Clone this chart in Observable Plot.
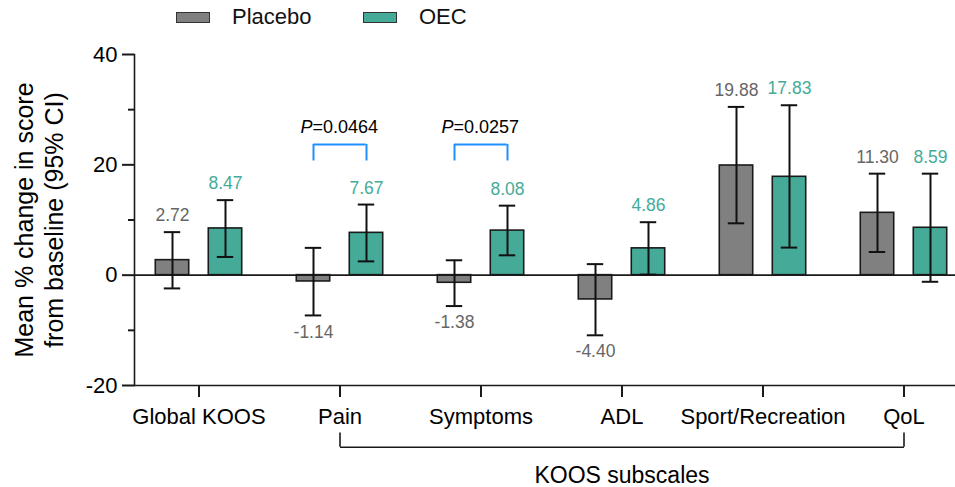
<!DOCTYPE html>
<html><head><meta charset="utf-8">
<script src="https://cdn.jsdelivr.net/npm/d3@7"></script>
<script src="https://cdn.jsdelivr.net/npm/@observablehq/plot@0.6"></script>
<style>
body{margin:0;background:#fff;font-family:"Liberation Sans",Arial,sans-serif;}
#legend{position:relative;height:36px;width:955px;}
.sw{position:absolute;top:12px;width:32px;height:9px;border:1.6px solid #333;}
.lt{position:absolute;top:4px;font-size:22px;line-height:26px;color:#111;white-space:nowrap;}
</style></head><body>
<div id="legend"></div>
<div id="chart"></div>
<script>
// ---- data ----
const categories = ["Global KOOS", "Pain", "Symptoms", "ADL", "Sport/Recreation", "QoL"];
const groups = ["Placebo", "OEC"];
const placeboMean  = [2.72, -1.14, -1.38, -4.40, 19.88, 11.30];
const placeboLower = [-2.4, -7.3, -5.6, -10.9, 9.4, 4.2];
const placeboUpper = [7.8, 4.95, 2.7, 2.0, 30.5, 18.4];
const oecMean  = [8.47, 7.67, 8.08, 4.86, 17.83, 8.59];
const oecLower = [3.3, 2.5, 3.6, 0.1, 5.0, -1.2];
const oecUpper = [13.6, 12.8, 12.6, 9.6, 30.8, 18.4];
const yTicks = [-20, 0, 20, 40];
const yMinorTicks = [-10, 10, 30];
const pComparisons = ["Pain", "Symptoms"];
const pValues = ["0.0464", "0.0257"];
const subscaleSpan = ["Pain", "QoL"];
const subscaleLabel = "KOOS subscales";
const yLabel = "Mean % change in score\nfrom baseline (95% CI)";

// ---- styles ----
const colors = {Placebo: "#808080", OEC: "#45ab98"};
const textColors = {Placebo: "#666666", OEC: "#45ab98"};
const FONT = '"Liberation Sans", Arial, sans-serif';
const ink = "#1a1a1a";
const bracketBlue = "#1e8fff";

// legend (HTML, above the SVG)
const legend = document.getElementById("legend");
const legendPos = {Placebo: [176, 232], OEC: [363, 419]};
for (const g of groups) {
  const sw = document.createElement("div");
  sw.className = "sw"; sw.style.left = legendPos[g][0] + "px"; sw.style.background = colors[g];
  const lt = document.createElement("div");
  lt.className = "lt"; lt.style.left = legendPos[g][1] + "px"; lt.textContent = g;
  legend.appendChild(sw); legend.appendChild(lt);
}

// table
const rows = [];
categories.forEach((c, i) => {
  rows.push({cat: c, group: "Placebo", mean: placeboMean[i], lo: placeboLower[i], hi: placeboUpper[i]});
  rows.push({cat: c, group: "OEC", mean: oecMean[i], lo: oecLower[i], hi: oecUpper[i]});
});

const half = 141.57 / 2;          // half band width
const off = 26.5;                 // bar centre offset from category centre
const barHalf = 17;
const whiskerHalf = 8.5;
const layout = {
  Placebo: {dx: -off, insetLeft: half - off - barHalf, insetRight: half + off - barHalf},
  OEC:     {dx:  off, insetLeft: half + off - barHalf, insetRight: half - off - barHalf}
};

const marks = [];
for (const g of groups) {
  const d = rows.filter(r => r.group === g);
  const s = layout[g];
  marks.push(Plot.barY(d, {x: "cat", y: "mean", fill: colors[g], stroke: ink, strokeWidth: 1.6,
    insetLeft: s.insetLeft, insetRight: s.insetRight}));
}
marks.push(Plot.ruleY([0], {stroke: ink, strokeWidth: 1.6}));
marks.push(Plot.ruleY([yTicks[0]], {stroke: ink, strokeWidth: 1.6}));
marks.push(Plot.frame({anchor: "left", stroke: ink, strokeWidth: 1.6}));
for (const g of groups) {
  const d = rows.filter(r => r.group === g);
  const s = layout[g];
  marks.push(Plot.ruleX(d, {x: "cat", y1: "lo", y2: "hi", dx: s.dx, stroke: "#111", strokeWidth: 2}));
  for (const k of ["lo", "hi"]) {
    marks.push(Plot.tickY(d, {x: "cat", y: k, dx: s.dx, insetLeft: half - whiskerHalf, insetRight: half - whiskerHalf,
      stroke: "#111", strokeWidth: 2}));
  }
  marks.push(Plot.text(d.filter(r => r.mean >= 0), {x: "cat", y: "hi", text: r => r.mean.toFixed(2),
    dx: s.dx, dy: -16.5, fill: textColors[g], fontSize: 17.5, lineAnchor: "middle"}));
  marks.push(Plot.text(d.filter(r => r.mean < 0), {x: "cat", y: "lo", text: r => r.mean.toFixed(2),
    dx: s.dx, dy: 16.5, fill: textColors[g], fontSize: 17.5, lineAnchor: "middle"}));
}

// significance brackets
const pData = pComparisons.map((c, i) => ({cat: c, p: pValues[i]}));
const bracketTop = 23.7, bracketFoot = 20.7, pTextY = 26.9;
marks.push(Plot.tickY(pData, {x: "cat", y: bracketTop, insetLeft: half - off, insetRight: half - off,
  stroke: bracketBlue, strokeWidth: 2}));
for (const sx of [-off, off]) {
  marks.push(Plot.ruleX(pData, {x: "cat", y1: bracketFoot, y2: bracketTop, dx: sx, stroke: bracketBlue, strokeWidth: 2}));
}
marks.push(Plot.text(pData, {x: "cat", y: pTextY, text: () => "P", fontStyle: "italic", textAnchor: "end",
  dx: -27.5, fontSize: 18, fill: "#000", lineAnchor: "middle"}));
marks.push(Plot.text(pData, {x: "cat", y: pTextY, text: d => "=" + d.p, textAnchor: "start",
  dx: -27.5, fontSize: 18, fill: "#000", lineAnchor: "middle"}));

// KOOS subscales bracket under the axis
const spanY = -31.2, spanFoot = -28.6, spanTextY = -36.4;
const i0 = categories.indexOf(subscaleSpan[0]), i1 = categories.indexOf(subscaleSpan[1]);
marks.push(Plot.link([subscaleSpan], {x1: d => d[0], x2: d => d[1], y1: spanY, y2: spanY, stroke: ink, strokeWidth: 1.6}));
marks.push(Plot.ruleX(subscaleSpan, {x: d => d, y1: spanFoot, y2: spanY, stroke: ink, strokeWidth: 1.6}));
marks.push(Plot.text([subscaleLabel], {x: () => categories[(i0 + i1) / 2], y: spanTextY, text: d => d,
  fontSize: 23, fill: "#000", lineAnchor: "middle"}));

// axes
marks.push(Plot.axisY({ticks: yTicks, tickSize: 12, tickPadding: 5, fontSize: 22, label: null,
  tickFormat: d => String(d), stroke: ink, strokeWidth: 2, fill: "#000"}));
marks.push(Plot.axisY({ticks: yMinorTicks, tickSize: 6, label: null, tickFormat: () => "", stroke: ink, strokeWidth: 2}));
marks.push(Plot.axisX({tickSize: 12, tickPadding: 11, fontSize: 22, label: null, stroke: ink, strokeWidth: 2, fill: "#000"}));
marks.push(Plot.text([yLabel], {frameAnchor: "left", text: d => d, rotate: -90, dx: -96, fontSize: 25,
  lineHeight: 1.2, textAnchor: "middle", lineAnchor: "middle", fill: "#000"}));

const chart = Plot.plot({
  width: 955, height: 451,
  marginLeft: 134, marginRight: 0, marginTop: 18, marginBottom: 102,
  style: {fontFamily: FONT, background: "#fff", color: "#000", overflow: "visible"},
  x: {domain: categories, range: [126.4, 975.8], padding: 0},
  y: {domain: [-20, 40]},
  marks
});
document.getElementById("chart").appendChild(chart);
</script>
</body></html>
